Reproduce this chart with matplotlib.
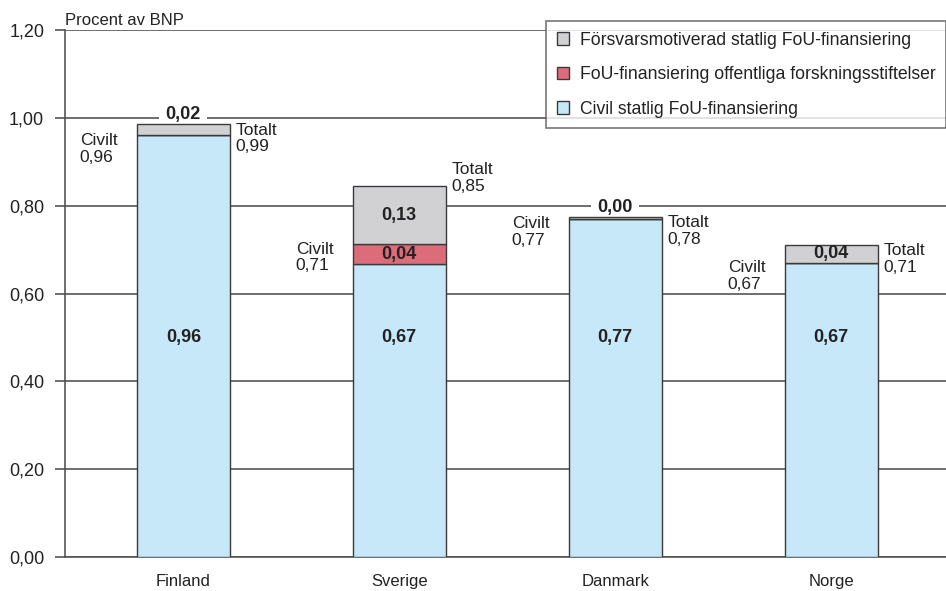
import numpy as np
import matplotlib as mpl
import matplotlib.pyplot as plt
from matplotlib.ticker import FuncFormatter, FixedLocator

mpl.rcParams['font.family'] = ['Liberation Sans', 'DejaVu Sans']

# =========================
# データ
# =========================
countries = ['Finland', 'Sverige', 'Danmark', 'Norge']
civil = [0.96, 0.667, 0.77, 0.67]          # Civil statlig FoU-finansiering
stiftelser = [0.0, 0.045, 0.0, 0.0]        # FoU-finansiering offentliga forskningsstiftelser
forsvar = [0.025, 0.132, 0.004, 0.041]     # Försvarsmotiverad statlig FoU-finansiering

civil_lbl = ['0,96', '0,67', '0,77', '0,67']
stift_lbl = ['', '0,04', '', '']
forsvar_lbl = ['0,02', '0,13', '0,00', '0,04']
civilt_lbl = ['0,96', '0,71', '0,77', '0,67']
totalt_lbl = ['0,99', '0,85', '0,78', '0,71']

yticks = [0.0, 0.2, 0.4, 0.6, 0.8, 1.0, 1.2]

c_civil = '#c6e8f8'
c_stift = '#dc6c79'
c_forsvar = '#d1d1d3'
c_edge = '#3a3a3a'
c_grid = '#555555'
c_text = '#222222'

# =========================
# 作図
# =========================
fig = plt.figure(figsize=(9.46, 5.91), dpi=100)
ax = fig.add_axes([0.0687, 0.0575, 0.931, 0.8917])

x = np.arange(len(countries))
w = 0.43
civil = np.array(civil)
stiftelser = np.array(stiftelser)
forsvar = np.array(forsvar)

for yv in yticks:
    ax.axhline(yv, color=c_grid, lw=1.2, zorder=1)

b1 = ax.bar(x, civil, w, color=c_civil, edgecolor=c_edge, lw=1.0, zorder=3,
            label='Civil statlig FoU-finansiering')
b2 = ax.bar(x, stiftelser, w, bottom=civil, color=c_stift, edgecolor=c_edge,
            lw=1.0, zorder=3, label='FoU-finansiering offentliga forskningsstiftelser')
b3 = ax.bar(x, forsvar, w, bottom=civil + stiftelser, color=c_forsvar,
            edgecolor=c_edge, lw=1.0, zorder=3,
            label='Försvarsmotiverad statlig FoU-finansiering')

total = civil + stiftelser + forsvar
fs = 13

for i in x:
    # 棒の中の値
    ax.text(i, 0.50, civil_lbl[i], ha='center', va='center', fontsize=fs,
            fontweight='bold', color=c_text, zorder=5)
    if stift_lbl[i]:
        ax.text(i, civil[i] + stiftelser[i] / 2, stift_lbl[i], ha='center',
                va='center', fontsize=fs, fontweight='bold', color=c_text, zorder=5)
    if forsvar[i] > 0.035:
        ax.text(i, civil[i] + stiftelser[i] + forsvar[i] / 2, forsvar_lbl[i],
                ha='center', va='center', fontsize=fs, fontweight='bold',
                color=c_text, zorder=5)
    else:
        # 小さい値は棒の上に（グリッド線を白で切る）
        ax.text(i, total[i] + 0.022, forsvar_lbl[i], ha='center', va='center',
                fontsize=fs, fontweight='bold', color=c_text, zorder=2,
                bbox=dict(boxstyle='square,pad=0.35', facecolor='white',
                          edgecolor='none'))

    # Civilt (左)
    cy = civil[i] + stiftelser[i]
    ax.text(i - w / 2 - 0.09, cy + 0.006, 'Civilt\n' + civilt_lbl[i],
            ha='right', va='top', multialignment='left', fontsize=12.5,
            color=c_text, linespacing=1.15, zorder=5)

    # Totalt (右)
    ty = total[i] + (0.052 if i == 1 else 0.0)
    ax.text(i + w / 2 + 0.027, ty + 0.004, 'Totalt\n' + totalt_lbl[i],
            ha='left', va='top', fontsize=12.5, color=c_text, linespacing=1.15,
            zorder=5)

# 軸
ax.set_xlim(-0.548, 3.53)
ax.set_ylim(0, 1.2)
ax.yaxis.set_major_locator(FixedLocator(yticks))
ax.yaxis.set_major_formatter(FuncFormatter(lambda v, p: f'{v:.2f}'.replace('.', ',')))
ax.set_xticks(x)
ax.set_xticklabels(countries)
ax.tick_params(axis='x', length=0, pad=12.5, labelsize=12, colors=c_text)
ax.tick_params(axis='y', length=7, width=1.2, color=c_grid, pad=8,
               labelsize=13, labelcolor=c_text)

for s in ['top', 'right']:
    ax.spines[s].set_visible(False)
ax.spines['left'].set_color(c_grid)
ax.spines['left'].set_linewidth(1.2)
ax.spines['bottom'].set_color(c_grid)
ax.spines['bottom'].set_linewidth(1.2)

ax.text(0.0, 1.004, 'Procent av BNP', transform=ax.transAxes, ha='left',
        va='bottom', fontsize=12, color=c_text)

# 凡例
leg = fig.legend(handles=[b3, b2, b1], loc='upper right',
                 bbox_to_anchor=(1.0, 0.9645), fontsize=12.7, frameon=True,
                 fancybox=False, edgecolor=c_grid, handlelength=0.7,
                 handleheight=0.7, handletextpad=0.6, labelspacing=1.0,
                 borderpad=0.6, borderaxespad=0.0)
leg.get_frame().set_linewidth(1.2)
for t in leg.get_texts():
    t.set_color(c_text)

fig.savefig('out.png', dpi=100)
